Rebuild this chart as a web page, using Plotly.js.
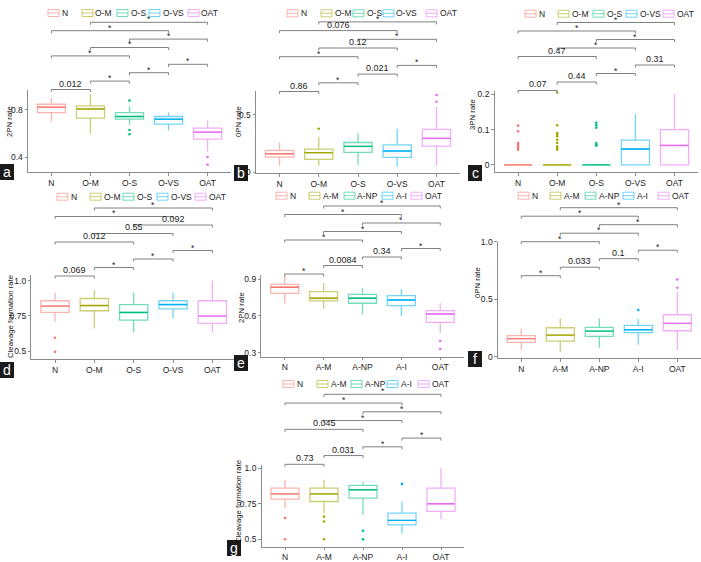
<!DOCTYPE html>
<html><head><meta charset="utf-8">
<script src="https://cdn.plot.ly/plotly-3.0.1.min.js"></script>
<style>html,body{margin:0;padding:0;background:#fff}#chart{width:701px;height:562px}</style>
</head><body><div id="chart"></div>
<script>
// ---------- data ----------
const catsO = ['N','O-M','O-S','O-VS','OAT'];
const catsA = ['N','A-M','A-NP','A-I','OAT'];
const pairs = [[1,2],[2,3],[3,4],[4,5],[1,3],[2,4],[3,5],[1,4],[2,5]];

// a: 2PN rate (O groups)
const a_q1  = [0.777, 0.730, 0.721, 0.679, 0.552];
const a_med = [0.823, 0.808, 0.744, 0.721, 0.611];
const a_q3  = [0.848, 0.834, 0.777, 0.744, 0.645];
const a_lo  = [0.700, 0.597, 0.673, 0.623, 0.448];
const a_hi  = [0.904, 0.935, 0.834, 0.780, 0.710];
const a_out = [[], [], [0.879, 0.630, 0.594], [], [0.400, 0.335]];
const a_p   = ['0.012','*','*','*','*','*','*','*','*'];
const a_ticks = [0.4, 0.8];
const a_tickText = ['0.4','0.8'];

// b: 0PN rate (O groups)
const b_q1  = [0.133, 0.113, 0.174, 0.131, 0.229];
const b_med = [0.162, 0.171, 0.226, 0.186, 0.296];
const b_q3  = [0.192, 0.203, 0.260, 0.240, 0.375];
const b_lo  = [0.058, 0.058, 0.064, 0.049, 0.058];
const b_hi  = [0.260, 0.310, 0.340, 0.380, 0.570];
const b_out = [[], [0.38], [], [], [0.615, 0.674]];
const b_p   = ['0.86','*','0.021','*','*','0.12','*','0.076','*'];
const b_ticks = [0, 0.5];
const b_tickText = ['0','0.5'];

// c: 3PN rate (O groups)
const c_q1  = [0, 0, 0, 0, 0];
const c_med = [0, 0, 0, 0.045, 0.055];
const c_q3  = [0, 0, 0, 0.070, 0.100];
const c_lo  = [0, 0, 0, 0, 0];
const c_hi  = [0, 0, 0, 0.143, 0.200];
const c_out = [[0.111, 0.095, 0.062, 0.057, 0.052, 0.048, 0.043],
               [0.205, 0.112, 0.090, 0.086, 0.081, 0.071, 0.062, 0.052, 0.048, 0.043],
               [0.119, 0.112, 0.105, 0.062, 0.057, 0.054], [], []];
const c_p   = ['0.07','0.44','*','0.31','0.47','*','*','*','*'];
const c_ticks = [0, 0.1, 0.2];
const c_tickText = ['0','0.1','0.2'];

// d: Cleavage formation rate (O groups)
const d_q1  = [0.774, 0.786, 0.719, 0.800, 0.696];
const d_med = [0.819, 0.823, 0.774, 0.830, 0.748];
const d_q3  = [0.857, 0.873, 0.830, 0.857, 0.857];
const d_lo  = [0.707, 0.660, 0.632, 0.731, 0.632];
const d_hi  = [0.916, 0.932, 0.916, 0.916, 1.000];
const d_out = [[0.594, 0.494], [], [], [], []];
const d_p   = ['0.069','*','*','*','0.012','0.55','0.092','*','*'];
const d_ticks = [0.5, 0.75, 1.0];
const d_tickText = ['0.5','0.75','1.0'];

// e: 2PN rate (A groups)
const e_q1  = [0.785, 0.723, 0.704, 0.685, 0.548];
const e_med = [0.835, 0.745, 0.745, 0.731, 0.616];
const e_q3  = [0.859, 0.799, 0.777, 0.766, 0.644];
const e_lo  = [0.704, 0.657, 0.614, 0.600, 0.458];
const e_hi  = [0.930, 0.867, 0.826, 0.821, 0.704];
const e_out = [[], [], [], [], [0.395, 0.330]];
const e_p   = ['*','0.0084','0.34','*','*','*','*','*','*'];
const e_ticks = [0.3, 0.6, 0.9];
const e_tickText = ['0.3','0.6','0.9'];

// f: 0PN rate (A groups)
const f_q1  = [0.125, 0.136, 0.177, 0.209, 0.226];
const f_med = [0.157, 0.188, 0.223, 0.235, 0.290];
const f_q3  = [0.183, 0.252, 0.255, 0.272, 0.365];
const f_lo  = [0.058, 0.043, 0.078, 0.104, 0.058];
const f_hi  = [0.246, 0.333, 0.333, 0.328, 0.565];
const f_out = [[], [], [], [0.406], [0.600, 0.672]];
const f_p   = ['*','0.033','0.1','*','*','*','*','*','*'];
const f_ticks = [0, 0.5, 1.0];
const f_tickText = ['0','0.5','1.0'];

// g: Cleavage formation rate (A groups)
const g_q1  = [0.783, 0.766, 0.790, 0.602, 0.696];
const g_med = [0.820, 0.820, 0.849, 0.633, 0.750];
const g_q3  = [0.860, 0.860, 0.879, 0.684, 0.860];
const g_lo  = [0.720, 0.684, 0.672, 0.539, 0.642];
const g_hi  = [0.919, 0.919, 0.903, 0.766, 1.000];
const g_out = [[0.65, 0.5], [0.66, 0.625, 0.5], [0.56, 0.5], [0.89], []];
const g_p   = ['0.73','0.031','*','*','0.045','*','*','*','*'];
const g_ticks = [0.5, 0.75, 1.0];
const g_tickText = ['0.5','0.75','1.0'];

const titles = ['2PN rate','0PN rate','3PN rate','Cleavage formation rate','2PN rate','0PN rate','Cleavage formation rate'];
const tags = ['a','b','c','d','e','f','g'];

// ---------- styling / layout ----------
const colors = ['#F8766D','#A3A500','#00BF7D','#00B0F6','#E76BF3'];
const light  = ['rgba(248,118,109,0.55)','rgba(163,165,0,0.55)','rgba(0,191,125,0.55)','rgba(0,176,246,0.55)','rgba(231,107,243,0.55)'];
const FONT = 'Liberation Sans, Arial, sans-serif';
const W = 701, H = 562;
const PX = x => x / W, PY = y => 1 - y / H;
const BOXW = 0.72;
const TICKF = 8.5;

const panels = [
  {cats:catsO, q1:a_q1, med:a_med, q3:a_q3, lo:a_lo, hi:a_hi, out:a_out, p:a_p, tv:a_ticks, tt:a_tickText},
  {cats:catsO, q1:b_q1, med:b_med, q3:b_q3, lo:b_lo, hi:b_hi, out:b_out, p:b_p, tv:b_ticks, tt:b_tickText},
  {cats:catsO, q1:c_q1, med:c_med, q3:c_q3, lo:c_lo, hi:c_hi, out:c_out, p:c_p, tv:c_ticks, tt:c_tickText},
  {cats:catsO, q1:d_q1, med:d_med, q3:d_q3, lo:d_lo, hi:d_hi, out:d_out, p:d_p, tv:d_ticks, tt:d_tickText},
  {cats:catsA, q1:e_q1, med:e_med, q3:e_q3, lo:e_lo, hi:e_hi, out:e_out, p:e_p, tv:e_ticks, tt:e_tickText},
  {cats:catsA, q1:f_q1, med:f_med, q3:f_q3, lo:f_lo, hi:f_hi, out:f_out, p:f_p, tv:f_ticks, tt:f_tickText},
  {cats:catsA, q1:g_q1, med:g_med, q3:g_q3, lo:g_lo, hi:g_hi, out:g_out, p:g_p, tv:g_ticks, tt:g_tickText}
];

// geometry in pixels
const geom = [
  {dx:[28,231],    dy:[90,172],    yr:[0.273,0.969], br0:89.5, brs:8.4,  lgy:13,    lgx:[48,82,117,149,188],  tag:[0,164],   yt:[10,122]},
  {dx:[256,460],   dy:[91,173],    yr:[-0.006,0.709],br0:91.5, brs:8.7,  lgy:13.3,  lgx:[287,321,353,383,426],tag:[234,165], yt:[239,122]},
  {dx:[494.6,698], dy:[90.7,172.3],yr:[-0.021,0.21], br0:90.5, brs:8.5,  lgy:13.7,  lgx:[525,558,593,626,663],tag:[468,165], yt:[473,115]},
  {dx:[31.4,236],  dy:[275,359.3], yr:[0.441,1.04],  br0:276,  brs:8.5,  lgy:196.7, lgx:[57,90,123,157,195],  tag:[0,362],   yt:[10,317]},
  {dx:[261.4,463.6],dy:[275,356.7],yr:[0.267,0.935], br0:274,  brs:8.5,  lgy:195.7, lgx:[276,309,344,382,411],tag:[234,355], yt:[241,308]},
  {dx:[497.9,700.7],dy:[241.7,358],yr:[-0.011,1.0],  br0:275.7,brs:8.5,  lgy:195.7, lgx:[518,550,585,623,658],tag:[468,351], yt:[477,283]},
  {dx:[261.6,464.4],dy:[465,546.7],yr:[0.448,1.023], br0:464.3,brs:8.75, lgy:384,   lgx:[283,317,351,387,418],tag:[227,540], yt:[238,502]}
];

const data = [];
const layout = {
  width: W, height: H, margin:{l:0,r:0,t:0,b:0},
  paper_bgcolor:'#fff', plot_bgcolor:'rgba(0,0,0,0)',
  showlegend:false, font:{family:FONT, size:TICKF, color:'#333'},
  shapes:[], annotations:[]
};

panels.forEach((P, k) => {
  const G = geom[k];
  const sfx = k === 0 ? '' : String(k + 1);
  const xr = 'x' + sfx, yr = 'y' + sfx;
  layout['xaxis' + sfx] = {
    domain:[PX(G.dx[0]), PX(G.dx[1])], anchor: yr, range:[0.4, 5.6],
    tickvals:[1,2,3,4,5], ticktext:P.cats, showline:true, linecolor:'#8c8c8c', linewidth:1,
    ticks:'outside', ticklen:2.5, tickcolor:'#8c8c8c', showgrid:false, zeroline:false,
    tickfont:{size:TICKF, color:'#222'}, fixedrange:true
  };
  layout['yaxis' + sfx] = {
    domain:[PY(G.dy[1]), PY(G.dy[0])], anchor: xr, range:G.yr,
    tickvals:P.tv, ticktext:P.tt, showline:true, linecolor:'#8c8c8c', linewidth:1,
    ticks:'outside', ticklen:2.5, tickcolor:'#8c8c8c', showgrid:false, zeroline:false,
    tickfont:{size:TICKF, color:'#222'}, fixedrange:true
  };
  P.cats.forEach((c, i) => {
    const xi = i + 1;
    data.push({
      type:'box', x:[xi], q1:[P.q1[i]], median:[P.med[i]], q3:[P.q3[i]],
      lowerfence:[P.lo[i]], upperfence:[P.hi[i]], boxpoints:false,
      width:BOXW, whiskerwidth:0, fillcolor:'rgba(255,255,255,0)',
      line:{color:light[i], width:1.3}, xaxis:xr, yaxis:yr, hoverinfo:'skip', name:c
    });
    data.push({
      type:'scatter', mode:'lines', x:[xi - BOXW/2, xi + BOXW/2], y:[P.med[i], P.med[i]],
      line:{color:colors[i], width:1.4}, xaxis:xr, yaxis:yr, hoverinfo:'skip'
    });
    if (P.out[i].length) {
      data.push({
        type:'scatter', mode:'markers', x:P.out[i].map(() => xi), y:P.out[i],
        marker:{color:colors[i], size:2.6}, xaxis:xr, yaxis:yr, hoverinfo:'skip'
      });
    }
    // legend key
    const lx = G.lgx[i], ly = G.lgy;
    layout.shapes.push({type:'rect', xref:'paper', yref:'paper', x0:PX(lx), x1:PX(lx+11), y0:PY(ly+3.5), y1:PY(ly-3.5),
      line:{color:light[i], width:1}, fillcolor:'rgba(0,0,0,0)'});
    layout.shapes.push({type:'line', xref:'paper', yref:'paper', x0:PX(lx), x1:PX(lx+11), y0:PY(ly), y1:PY(ly),
      line:{color:light[i], width:1}});
    layout.annotations.push({xref:'paper', yref:'paper', x:PX(lx+12.5), y:PY(ly), xanchor:'left', yanchor:'middle',
      text:c, showarrow:false, borderpad:0, font:{size:TICKF, color:'#222'}});
  });
  // significance brackets
  pairs.forEach((pr, j) => {
    const yb = G.br0 - j * G.brs;
    layout.shapes.push({type:'path', xref:xr, yref:'paper',
      path:`M ${pr[0]},${PY(yb+2.5)} L ${pr[0]},${PY(yb)} L ${pr[1]},${PY(yb)} L ${pr[1]},${PY(yb+2.5)}`,
      line:{color:'#808080', width:1}});
    const star = P.p[j] === '*';
    layout.annotations.push({xref:xr, yref:'paper', x:(pr[0]+pr[1])/2, y:PY(yb + (star ? 3 : 0)),
      xanchor:'center', yanchor:'bottom', text:P.p[j], showarrow:false, borderpad:0,
      font:{size: star ? 8.5 : 9, color:'#222'}});
  });
  // y title
  layout.annotations.push({xref:'paper', yref:'paper', x:PX(G.yt[0]), y:PY(G.yt[1]), xanchor:'center', yanchor:'middle',
    text:titles[k], textangle:-90, showarrow:false, borderpad:0, font:{size:7.8, color:'#111'}});
  // panel tag
  layout.shapes.push({type:'rect', xref:'paper', yref:'paper', x0:PX(G.tag[0]), x1:PX(G.tag[0]+14),
    y0:PY(G.tag[1]+16), y1:PY(G.tag[1]), line:{width:0}, fillcolor:'#1a1a1a'});
  layout.annotations.push({xref:'paper', yref:'paper', x:PX(G.tag[0]+7), y:PY(G.tag[1]+8), xanchor:'center', yanchor:'middle',
    text:tags[k], showarrow:false, borderpad:0, font:{size:14, color:'#fff'}});
});

Plotly.newPlot('chart', data, layout, {staticPlot:true});
</script></body></html>
